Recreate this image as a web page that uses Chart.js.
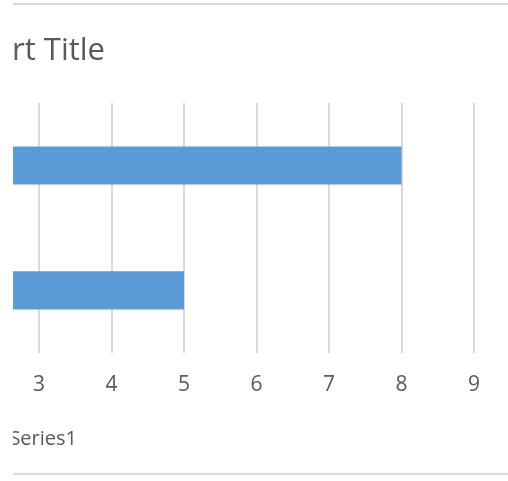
<!DOCTYPE html>
<html>
<head>
<meta charset="utf-8">
<script src="https://cdn.jsdelivr.net/npm/chart.js@4/dist/chart.umd.min.js"></script>
<style>
  html, body { margin: 0; padding: 0; background: #fff; }
  #wrap { position: absolute; left: 13px; top: 0; width: 495px; height: 481px; overflow: hidden; }
  .rule { position: absolute; left: 0; width: 495px; height: 2px; background: #d9d9d9; }
  canvas { position: absolute; left: 0; top: 0; }
</style>
</head>
<body>
<div id="wrap">
  <div class="rule" style="top:3px"></div>
  <div class="rule" style="top:473px"></div>
  <canvas id="chart" width="495" height="481"></canvas>
</div>
<script>
const categories = ['1', '2'];
const series1 = [5, 8];
const xTicks = [3, 4, 5, 6, 7, 8, 9];
const xMin = 2.641;
const xMax = 9;

const textColor = '#595959';
const font = '"Open Sans", "DejaVu Sans", sans-serif';

// title and legend sit off-centre here, their left part is cut by the frame
const clippedText = {
    id: 'clippedText',
    afterDraw(chart) {
        const ctx = chart.ctx;
        ctx.save();
        ctx.fillStyle = textColor;
        ctx.textAlign = 'right';
        ctx.textBaseline = 'alphabetic';
        ctx.font = '31px ' + font;
        ctx.fillText('Chart Title', 92, 60);
        ctx.font = '20px ' + font;
        ctx.fillText('Series1', 64, 445);
        ctx.restore();
    }
};

new Chart(document.getElementById('chart'), {
    type: 'bar',
    data: {
        labels: categories,
        datasets: [{
            label: 'Series1',
            data: series1,
            backgroundColor: '#5b9bd5',
            borderWidth: 0,
            barPercentage: 0.305,
            categoryPercentage: 1
        }]
    },
    options: {
        indexAxis: 'y',
        responsive: false,
        animation: false,
        layout: { padding: { left: 0, right: 34, top: 103, bottom: 63 } },
        plugins: { legend: { display: false }, title: { display: false }, tooltip: { enabled: false } },
        scales: {
            y: { display: false, reverse: true },
            x: {
                min: xMin,
                max: xMax,
                afterBuildTicks: (scale) => { scale.ticks = xTicks.map(v => ({ value: v })); },
                border: { display: false },
                grid: { color: '#d9d9d9', lineWidth: 2, drawTicks: false },
                ticks: { color: textColor, padding: 20, font: { family: font, size: 21 } }
            }
        }
    },
    plugins: [clippedText]
});
</script>
</body>
</html>
